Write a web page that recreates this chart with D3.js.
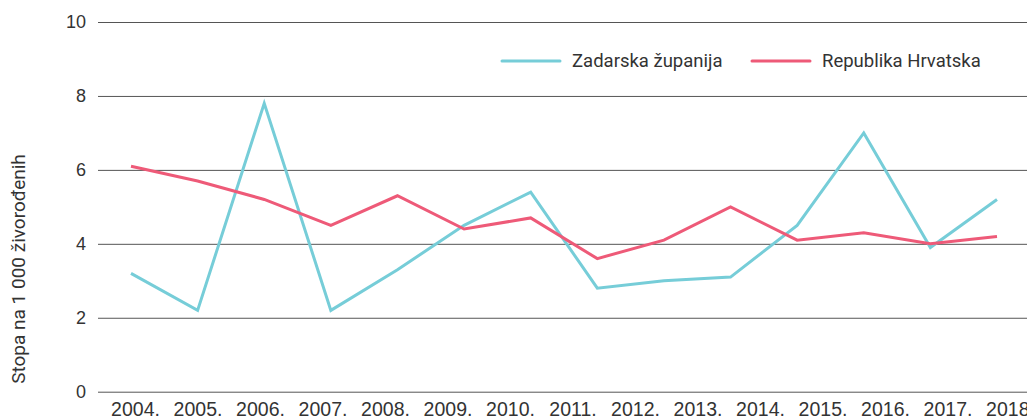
<!DOCTYPE html>
<html>
<head>
<meta charset="utf-8">
<script src="https://cdn.jsdelivr.net/npm/d3@7"></script>
<style>
  body { margin: 0; background: #fff; }
  svg { display: block; font-family: Roboto, "Noto Sans", sans-serif; }
</style>
</head>
<body>
<svg id="chart" width="1027" height="420"></svg>
<script>
// Year labels on the axis
const years = ['2004.', '2005.', '2006.', '2007.', '2008.', '2009.', '2010.', '2011.',
  '2012.', '2013.', '2014.', '2015.', '2016.', '2017.', '2018.'];

// Series values (rate per 1000 live births)
const zadarska = [3.2, 2.2, 7.8, 2.2, 3.3, 4.5, 5.4, 2.8, 3.0, 3.1, 4.5, 7.0, 3.9, 5.2];
const hrvatska = [6.1, 5.7, 5.2, 4.5, 5.3, 4.4, 4.7, 3.6, 4.1, 5.0, 4.1, 4.3, 4.0, 4.2];

const yTicks = [0, 2, 4, 6, 8, 10];

const series = [
  { name: 'Zadarska županija', values: zadarska, color: '#76cdd8' },
  { name: 'Republika Hrvatska', values: hrvatska, color: '#ee5a78' }
];

const svg = d3.select('#chart');
const left = 98, right = 1027;

const y = d3.scaleLinear().domain([0, 10]).range([391.7, 22]);
const xLabel = d3.scalePoint().domain(years).range([135, 1010]);
const xData = d3.scaleLinear().domain([0, zadarska.length - 1]).range([131, 997]);

// Gridlines + y labels
const yAxis = svg.append('g')
  .attr('transform', `translate(${left},0)`)
  .call(d3.axisLeft(y).tickValues(yTicks).tickSize(-(right - left)).tickPadding(12));
yAxis.select('.domain').remove();
yAxis.selectAll('line').attr('stroke', '#555');
yAxis.selectAll('text')
  .attr('fill', '#333')
  .style('font-size', '18px');

// X labels
const xAxis = svg.append('g')
  .attr('transform', 'translate(0,402)')
  .call(d3.axisBottom(xLabel).tickSize(0).tickPadding(0));
xAxis.select('.domain').remove();
xAxis.selectAll('text')
  .attr('fill', '#333')
  .style('font-size', '19.5px');

// Y axis title
svg.append('text')
  .attr('transform', 'translate(25,269) rotate(-90)')
  .attr('text-anchor', 'middle')
  .attr('fill', '#333')
  .style('font-size', '19px')
  .text('Stopa na 1 000 živorođenih');

// Lines
const line = d3.line()
  .x((d, i) => xData(i))
  .y(d => y(d));

svg.selectAll('.series')
  .data(series)
  .enter().append('path')
  .attr('class', 'series')
  .attr('d', d => line(d.values))
  .attr('fill', 'none')
  .attr('stroke', d => d.color)
  .attr('stroke-width', 3)
  .attr('stroke-linejoin', 'miter');

// Legend
const legendX = [502, 752];
const legend = svg.selectAll('.legend')
  .data(series)
  .enter().append('g')
  .attr('class', 'legend')
  .attr('transform', (d, i) => `translate(${legendX[i]},61)`);
legend.append('line')
  .attr('x1', 0).attr('x2', 58)
  .attr('stroke', d => d.color)
  .attr('stroke-width', 3)
  .attr('stroke-linecap', 'round');
legend.append('text')
  .attr('x', 70)
  .attr('dy', '0.35em')
  .attr('fill', '#333')
  .style('font-size', '18.5px')
  .text(d => d.name);
</script>
</body>
</html>
